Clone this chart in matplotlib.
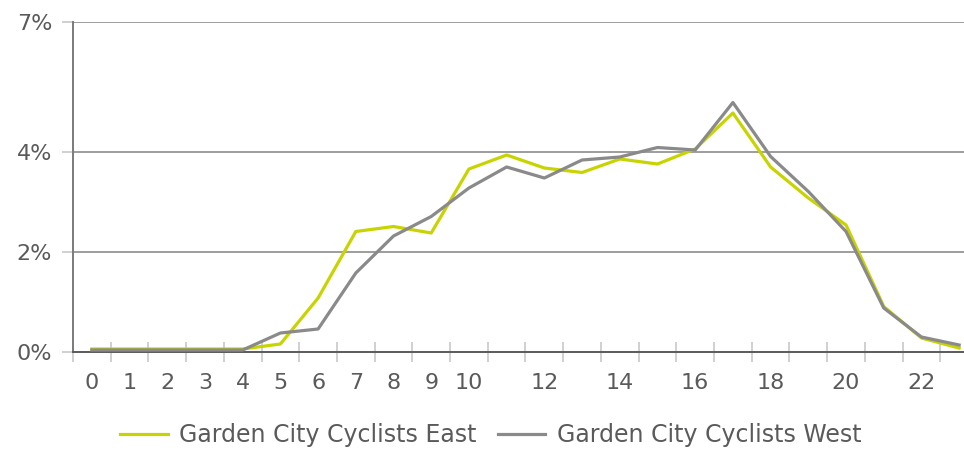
import numpy as np
import matplotlib
matplotlib.use("Agg")
import matplotlib.pyplot as plt

# hourly share of trips, percent
hours = list(range(24))
east = [0.06, 0.06, 0.06, 0.06, 0.06, 0.16, 1.08, 2.41, 2.51, 2.38, 3.66, 3.94,
        3.68, 3.59, 3.86, 3.76, 4.06, 4.78, 3.70, 3.08, 2.54, 0.91, 0.28, 0.08]
west = [0.04, 0.04, 0.04, 0.04, 0.04, 0.38, 0.46, 1.58, 2.32, 2.71, 3.28, 3.70,
        3.48, 3.84, 3.90, 4.09, 4.04, 4.99, 3.91, 3.21, 2.41, 0.88, 0.30, 0.14]
series_names = ["Garden City Cyclists East", "Garden City Cyclists West"]
y_ticks = [0, 2, 4, 6.6]
y_labels = ["0%", "2%", "4%", "7%"]
x_labels = [str(h) if (h <= 10 or h % 2 == 0) else "" for h in hours]

plt.rcParams["font.family"] = "DejaVu Sans"

text_col = "#5a5a5a"
W, H = 964, 450
fig = plt.figure(figsize=(W / 100, H / 100), dpi=100)
# axis runs past the right edge of the picture, like the source
ax = fig.add_axes([73 / W, 98 / H, (978 - 73) / W, (352 - 22) / H])

ax.plot(hours, east, color="#c8d400", lw=2.3, label=series_names[0], zorder=3)
ax.plot(hours, west, color="#8a8a8a", lw=2.3, label=series_names[1], zorder=4)

ax.set_xlim(-0.5, 23.5)
ax.set_ylim(0, 6.6)

for y in y_ticks[1:]:
    ax.axhline(y, color="#8c8c8c", lw=1.2, zorder=1)

for s in ["top", "right"]:
    ax.spines[s].set_visible(False)
ax.spines["left"].set_color("#7a7a7a")
ax.spines["left"].set_linewidth(1.4)
ax.spines["bottom"].set_color("#5a5a5a")
ax.spines["bottom"].set_linewidth(1.4)

ax.set_yticks(y_ticks)
ax.set_yticklabels(y_labels)
ax.tick_params(axis="y", direction="out", length=8, width=1.2, color="#c8c8c8",
               pad=7, labelsize=16, labelcolor=text_col)

# tick marks sit on category boundaries, labels at category centres
ax.set_xticks(np.arange(-0.5, 24, 1))
ax.set_xticklabels([])
ax.tick_params(axis="x", which="major", direction="inout", length=14, width=1.2,
               color="#c8c8c8")
ax.set_xticks(hours, minor=True)
ax.set_xticklabels(x_labels, minor=True)
ax.tick_params(axis="x", which="minor", length=0, pad=15, labelsize=16,
               labelcolor=text_col)

fig.legend(loc="center", bbox_to_anchor=(491 / W, 15 / H), ncol=2, frameon=False,
           fontsize=17, handlelength=2.0, columnspacing=0.9, handletextpad=0.5,
           labelcolor=text_col)

fig.savefig("out.png", dpi=100)
